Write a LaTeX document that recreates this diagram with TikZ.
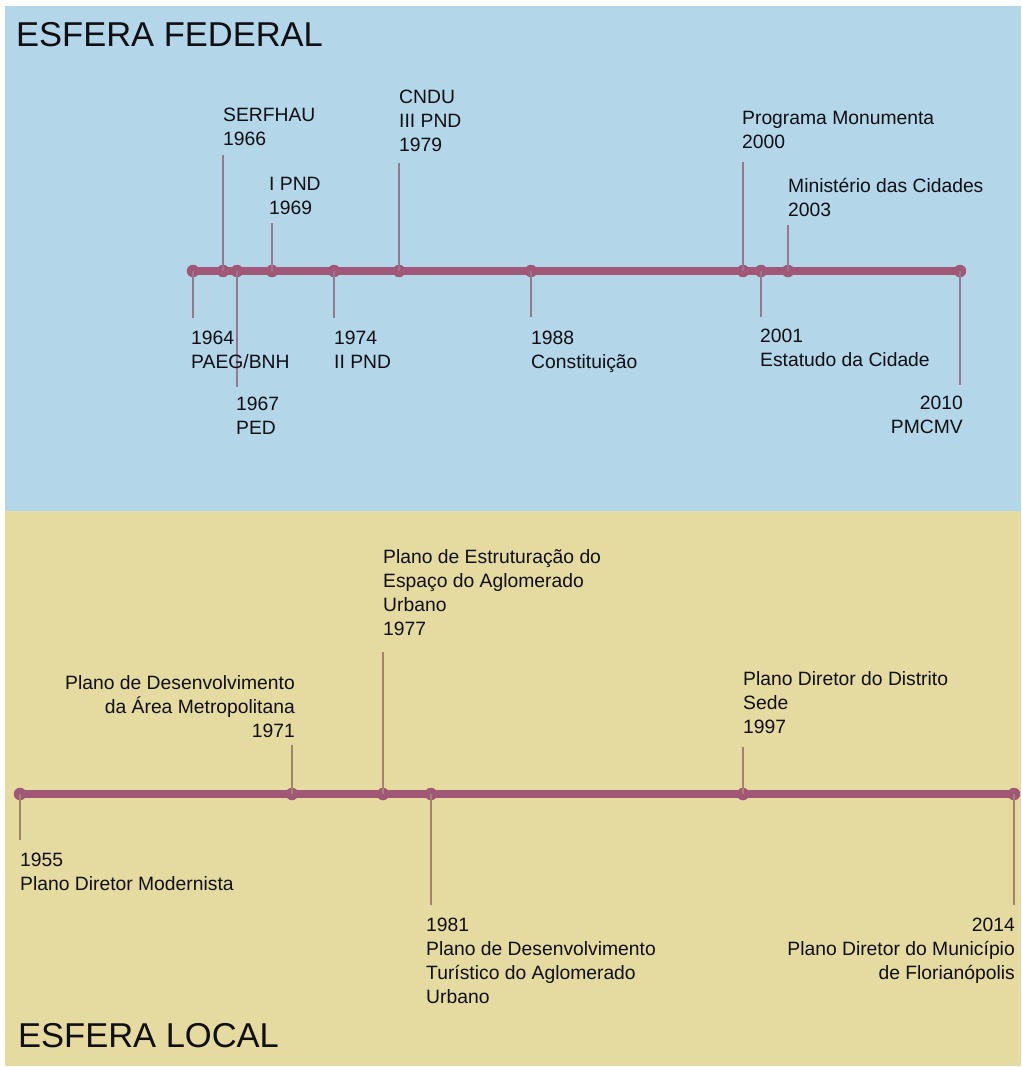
\documentclass[tikz,border=0pt]{standalone}
\usepackage{fontspec}
\setmainfont{Liberation Sans}
\definecolor{fedbg}{RGB}{179,214,232}
\definecolor{locbg}{RGB}{229,218,159}
\definecolor{mauve}{RGB}{160,88,118}
\definecolor{tickF}{RGB}{150,118,145}
\definecolor{tickL}{RGB}{160,132,112}
\definecolor{ink}{RGB}{15,15,20}
\tikzset{
  dot/.style={circle,fill=mauve,inner sep=0pt,minimum size=12.5pt},
  axis/.style={mauve,line width=8pt},
  tickf/.style={tickF,line width=1.8pt},
  tickl/.style={tickL,line width=1.8pt},
  lbl/.style={inner sep=0pt,text=ink,font=\fontsize{19.3}{24}\selectfont,align=left,anchor=north west},
  lblr/.style={lbl,align=right,anchor=north east},
  title/.style={inner sep=0pt,text=ink,font=\fontsize{34.5}{38}\selectfont,anchor=base west}
}
\begin{document}
\begin{tikzpicture}[x=1pt,y=-1pt]
\useasboundingbox (0,0) rectangle (1021,1067);
\fill[white] (0,0) rectangle (1021,1067);
\fill[fedbg] (5,6) rectangle (1021,511);
\fill[locbg] (5,511) rectangle (1021,1066);

% titles
\node[title] (tF) at (16,47) {ESFERA FEDERAL};
\node[title] (tL) at (18,1047) {ESFERA LOCAL};

% ---------- federal timeline ----------
\coordinate (fa) at (193,271);
\coordinate (fb) at (960,271);
\draw[axis] (fa) -- (fb);
\node[dot] (f64) at (193,271) {};
\node[dot] (f66) at (223,271) {};
\node[dot] (f67) at (237,271) {};
\node[dot] (f69) at (272,271) {};
\node[dot] (f74) at (334,271) {};
\node[dot] (f79) at (399,271) {};
\node[dot] (f88) at (531,271) {};
\node[dot] (f00) at (743,271) {};
\node[dot] (f01) at (761,271) {};
\node[dot] (f03) at (788,271) {};
\node[dot] (f10) at (960,271) {};

\coordinate (e64) at (193,318);
\coordinate (e66) at (223,155);
\coordinate (e67) at (237,387);
\coordinate (e69) at (272,223);
\coordinate (e74) at (334,318);
\coordinate (e79) at (399,163);
\coordinate (e88) at (531,317);
\coordinate (e00) at (743,162);
\coordinate (e01) at (761,317);
\coordinate (e03) at (788,225);
\coordinate (e10) at (960,385);
\foreach \k in {64,66,67,69,74,79,88,00,01,03,10}{
  \draw[tickf] (f\k.center) -- (e\k);
}

\node[lbl] (L64) at (191,331) {1964\\PAEG/BNH};
\node[lbl] (L66) at (223,108) {SERFHAU\\1966};
\node[lbl] (L67) at (236,397) {1967\\PED};
\node[lbl] (L69) at (269,177) {I PND\\1969};
\node[lbl] (L74) at (334,331) {1974\\II PND};
\node[lbl] (L79) at (399,90) {CNDU\\III PND\\1979};
\node[lbl] (L88) at (531,331) {1988\\Constituição};
\node[lbl] (L00) at (742,111) {Programa Monumenta\\2000};
\node[lbl] (L01) at (760,329) {2001\\Estatudo da Cidade};
\node[lbl] (L03) at (788,178) {Ministério das Cidades\\2003};
\node[lblr] (L10) at (963,396) {2010\\PMCMV};

% ---------- local timeline ----------
\coordinate (la) at (20,794);
\coordinate (lb) at (1014,794);
\draw[axis] (la) -- (lb);
\node[dot] (l55) at (20,794) {};
\node[dot] (l71) at (292,794) {};
\node[dot] (l77) at (383,794) {};
\node[dot] (l81) at (431,794) {};
\node[dot] (l97) at (743,794) {};
\node[dot] (l14) at (1014,794) {};

\coordinate (m55) at (20,840);
\coordinate (m71) at (292,745);
\coordinate (m77) at (383,652);
\coordinate (m81) at (431,905);
\coordinate (m97) at (743,747);
\coordinate (m14) at (1014,905);
\foreach \k in {55,71,77,81,97,14}{
  \draw[tickl] (l\k.center) -- (m\k);
}

\node[lbl] (M55) at (20,853) {1955\\Plano Diretor Modernista};
\node[lblr] (M71) at (295,675) {Plano de Desenvolvimento\\da Área Metropolitana\\1971};
\node[lbl] (M77) at (383,549) {Plano de Estruturação do\\Espaço do Aglomerado\\Urbano\\1977};
\node[lbl] (M81) at (426,918) {1981\\Plano de Desenvolvimento\\Turístico do Aglomerado\\Urbano};
\node[lbl] (M97) at (743,671) {Plano Diretor do Distrito\\Sede\\1997};
\node[lblr] (M14) at (1015,918) {2014\\Plano Diretor do Município\\de Florianópolis};
\end{tikzpicture}
\end{document}
